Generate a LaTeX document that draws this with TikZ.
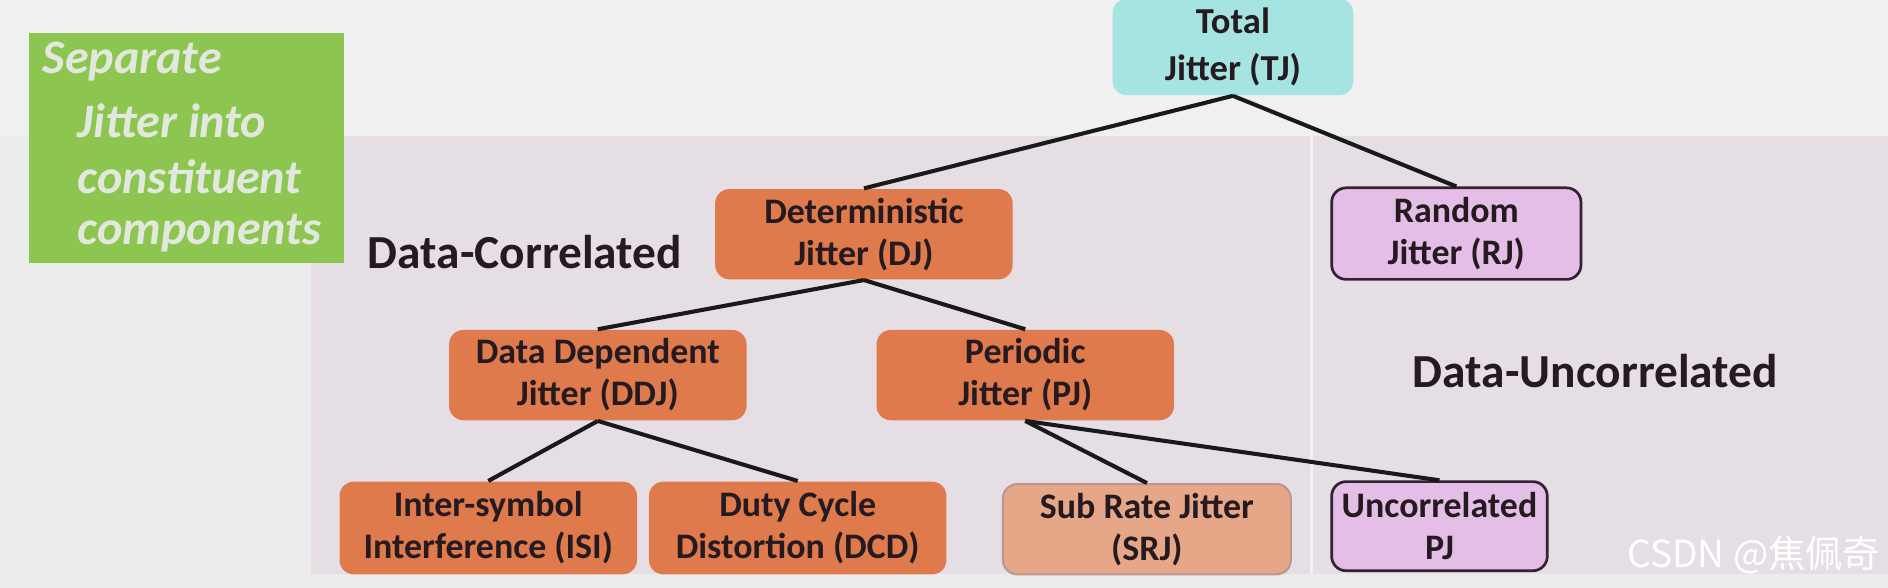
\documentclass[tikz,border=0pt]{standalone}
\usepackage{fontspec}
\setmainfont{Carlito}
\newfontfamily\cjkfont{Noto Sans CJK SC}
\definecolor{bgc}{RGB}{236,236,236}
\definecolor{topc}{RGB}{240,240,240}
\definecolor{panelc}{RGB}{229,222,229}
\definecolor{greenc}{RGB}{140,198,80}
\definecolor{greentxt}{RGB}{226,232,222}
\definecolor{cyanc}{RGB}{166,228,226}
\definecolor{orangec}{RGB}{222,122,76}
\definecolor{salmonc}{RGB}{230,166,136}
\definecolor{salmonb}{RGB}{186,150,142}
\definecolor{violetc}{RGB}{228,190,230}
\definecolor{violetb}{RGB}{52,34,52}
\definecolor{txtc}{RGB}{36,26,32}
\begin{document}
\begin{tikzpicture}[x=0.0125cm,y=-0.0125cm,
  box/.style={rounded corners=0.15cm, align=center, inner sep=0pt, text=txtc,
    font=\bfseries\fontsize{10.6}{12.4}\selectfont},
  orangebox/.style={box, fill=orangec},
  violetbox/.style={box, fill=violetc, draw=violetb, line width=0.8pt},
  salmonbox/.style={box, fill=salmonc, draw=salmonb, line width=0.6pt},
  conn/.style={draw=black!90, line width=1.2pt},
  biglabel/.style={text=txtc, font=\bfseries\fontsize{14}{16}\selectfont, inner sep=0pt},
  greentext/.style={text=greentxt, font=\bfseries\itshape\fontsize{14.2}{16}\selectfont, inner sep=0pt, anchor=west}
]
\useasboundingbox (0,0) rectangle (1568,488);
% background
\fill[bgc] (0,0) rectangle (1568,488);
\fill[topc] (0,0) rectangle (1568,113);
\fill[panelc] (258,113) rectangle (1568,477);
\draw[white!55!panelc, line width=1pt] (1089,113) -- (1089,477);
% green box
\fill[greenc] (24,27) rectangle (286,218);
\node[greentext] (g1) at (35,51) {Separate};
\node[greentext] (g2) at (64,100) {Jitter into};
\node[greentext] (g3) at (64,147) {constituent};
\node[greentext] (g4) at (64,194) {components};
% labels
\node[biglabel] (dc) at (436,209) {Data-Correlated};
\node[biglabel] (du) at (1325,308) {Data-Uncorrelated};
% nodes
\node[box, fill=cyanc, minimum width=2.5cm, minimum height=1.0cm,
  font=\bfseries\fontsize{10.8}{13.8}\selectfont] (tj) at (1024,39) {Total\\Jitter (TJ)};
\node[orangebox, minimum width=3.0875cm, minimum height=0.9375cm] (dj) at (717.5,194.5) {Deterministic\\Jitter (DJ)};
\node[violetbox, minimum width=2.5875cm, minimum height=0.95cm] (rj) at (1209.5,194) {Random\\Jitter (RJ)};
\node[orangebox, minimum width=3.0875cm, minimum height=0.9375cm] (ddj) at (496.5,311.5) {Data Dependent\\Jitter (DDJ)};
\node[orangebox, minimum width=3.0875cm, minimum height=0.9375cm] (pj) at (851.5,311.5) {Periodic\\Jitter (PJ)};
\node[orangebox, minimum width=3.0875cm, minimum height=0.9625cm] (isi) at (405.5,438.5) {Inter-symbol\\Interference (ISI)};
\node[orangebox, minimum width=3.0875cm, minimum height=0.9625cm] (dcd) at (662.5,438.5) {Duty Cycle\\Distortion (DCD)};
\node[salmonbox, minimum width=2.9875cm, minimum height=0.9375cm] (srj) at (952.5,439.5) {Sub Rate Jitter\\(SRJ)};
\node[violetbox, minimum width=2.2375cm, minimum height=0.925cm] (upj) at (1195.5,437) {Uncorrelated\\PJ};
% connectors
\draw[conn] (tj.south) -- (dj.north);
\draw[conn] (tj.south) -- (rj.north);
\draw[conn] (dj.south) -- (ddj.north);
\draw[conn] (dj.south) -- (pj.north);
\draw[conn] (ddj.south) -- (isi.north);
\draw[conn] (ddj.south) -- (dcd.north);
\draw[conn] (pj.south) -- (srj.north);
\draw[conn] (pj.south) -- (upj.north);
% watermark
\node[text=white, font=\cjkfont\fontsize{11}{13}\selectfont, inner sep=0pt, anchor=east] (wm) at (1562,461) {CSDN @焦佩奇};
\end{tikzpicture}
\end{document}
